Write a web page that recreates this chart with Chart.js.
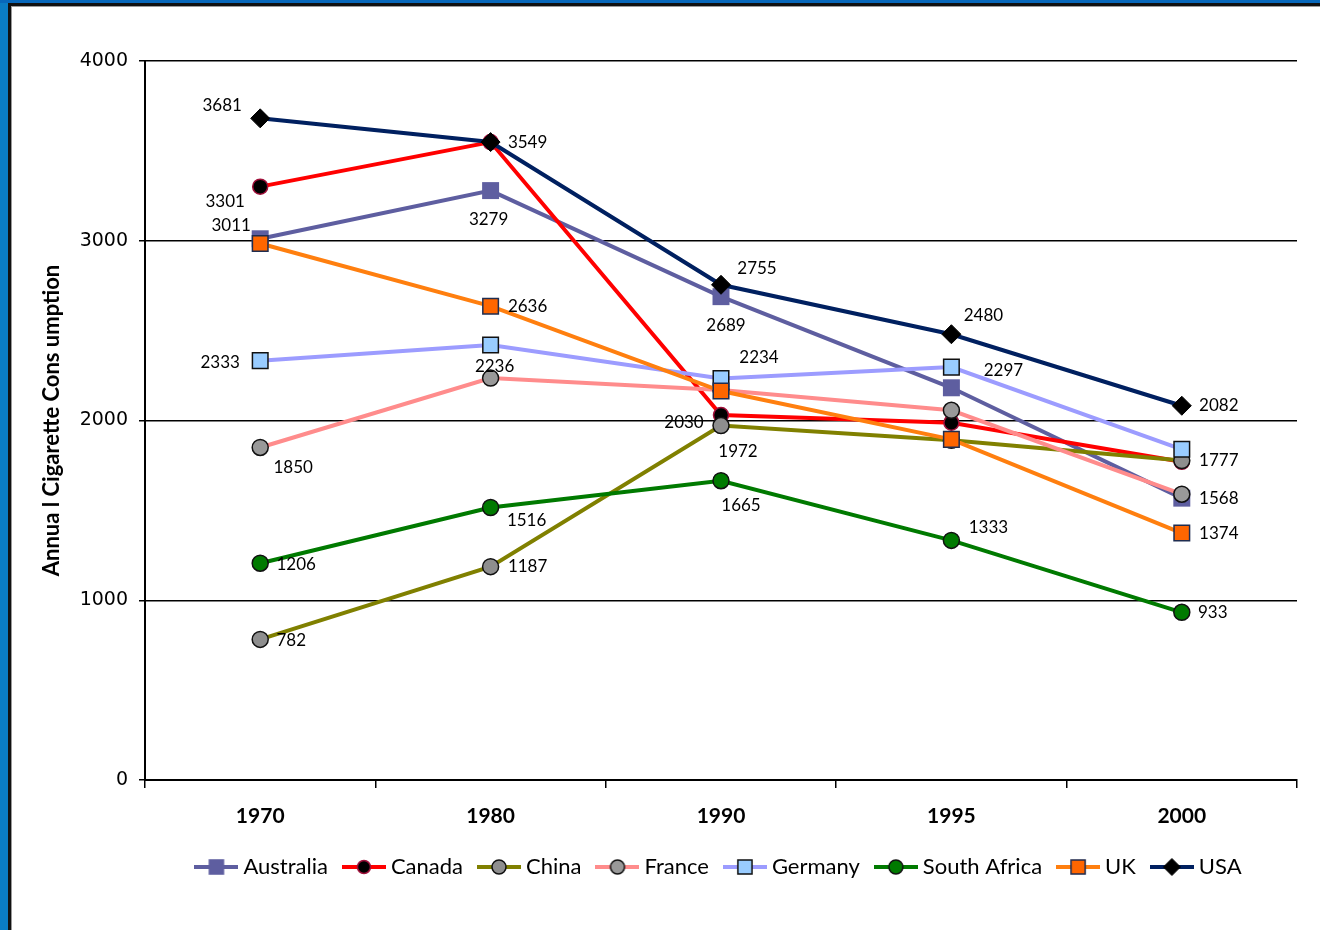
<!DOCTYPE html>
<html>
<head>
<meta charset="utf-8">
<title>Annual Cigarette Consumption</title>
<script src="https://cdn.jsdelivr.net/npm/chart.js@4.4.1/dist/chart.umd.min.js"></script>
<style>
  html, body { margin: 0; padding: 0; background: #fff; }
  #wrap { position: relative; width: 1320px; height: 930px; overflow: hidden; background: #fff; }
  #chart { position: absolute; left: 0; top: 0; }
  .frame { position: absolute; }
  #blueL { left: 0; top: 0; width: 8px; height: 930px; background: #0a7cc4; }
  #blueT { left: 0; top: 0; width: 1320px; height: 3px; background: #0868bb; }
  #darkL { left: 8px; top: 3px; width: 3px; height: 927px; background: #111; }
  #darkT { left: 8px; top: 3px; width: 1312px; height: 3px; background: #111; }
  #greyL { left: 11px; top: 6px; width: 1px; height: 924px; background: #9a9a9a; }
  #greyT { left: 11px; top: 6px; width: 1309px; height: 1px; background: #9a9a9a; }
</style>
</head>
<body>
<div id="wrap">
  <canvas id="chart" width="1320" height="930"></canvas>
  <div class="frame" id="blueL"></div>
  <div class="frame" id="blueT"></div>
  <div class="frame" id="darkL"></div>
  <div class="frame" id="darkT"></div>
  <div class="frame" id="greyL"></div>
  <div class="frame" id="greyT"></div>
</div>
<script>
// Survey years on the category axis
const YEARS = ['1970', '1980', '1990', '1995', '2000'];

// Annual cigarette consumption per country
const AUSTRALIA    = [3011, 3279, 2689, 2182, 1568];
const CANADA       = [3301, 3549, 2030, 1988, 1770];
const CHINA        = [782, 1187, 1972, 1890, 1777];
const FRANCE       = [1850, 2236, 2170, 2057, 1590];
const GERMANY      = [2333, 2420, 2234, 2297, 1840];
const SOUTH_AFRICA = [1206, 1516, 1665, 1333, 933];
const UK           = [2985, 2636, 2164, 1895, 1374];
const USA          = [3681, 3549, 2755, 2480, 2082];

// Value axis ticks
const Y_TICKS = [0, 1000, 2000, 3000, 4000];

// Where each value label sits relative to its point (label centre offset, px); null = no label
const LABEL_OFFSETS = {
  'Australia':    [[-29, -13], [-2, 29], [5, 29], null, [37, 0]],
  'Canada':       [[-35, 15], null, [-37, 7], null, null],
  'China':        [[31, 1], [37, 0], [17, 26], null, [37, 0]],
  'France':       [[33, 20], [4, -12], null, null, null],
  'Germany':      [[-40, 2], null, [38, -21], [52, 3], null],
  'South Africa': [[36, 1], [36, 13], [20, 25], [37, -13], [31, 0]],
  'UK':           [null, [37, 0], null, null, [37, 0]],
  'USA':          [[-38, -13], [37, 0], [36, -16], [32, -19], [37, 0]]
};

const SERIES = [
  { name: 'Australia',    data: AUSTRALIA,    line: '#5e5ea0', style: 'rect',    r: 12,  bg: '#5e5ea0', border: '#5e5ea0', bw: 0 },
  { name: 'Canada',       data: CANADA,       line: '#ff0000', style: 'circle',  r: 7.5, bg: '#000000', border: '#a0103a', bw: 1.5 },
  { name: 'China',        data: CHINA,        line: '#808000', style: 'circle',  r: 8,   bg: '#8e8e8e', border: '#111111', bw: 1.5 },
  { name: 'France',       data: FRANCE,       line: '#ff8c8c', style: 'circle',  r: 8,   bg: '#999999', border: '#111111', bw: 1.5 },
  { name: 'Germany',      data: GERMANY,      line: '#9c9cff', style: 'rect',    r: 11,  bg: '#99ccff', border: '#111111', bw: 1.5 },
  { name: 'South Africa', data: SOUTH_AFRICA, line: '#007a00', style: 'circle',  r: 8,   bg: '#007a00', border: '#111111', bw: 1.5 },
  { name: 'UK',           data: UK,           line: '#ff7f0f', style: 'rect',    r: 11,  bg: '#ff6600', border: '#1f2d50', bw: 1.5 },
  { name: 'USA',          data: USA,          line: '#002060', style: 'rectRot', r: 9.5, bg: '#000000', border: '#000000', bw: 1 }
];

// Legend swatch: a short line with the series marker in the middle
function legendIcon(s) {
  const c = document.createElement('canvas');
  c.width = 44; c.height = 22;
  const g = c.getContext('2d');
  g.strokeStyle = s.line;
  g.lineWidth = 4;
  g.beginPath(); g.moveTo(0, 11); g.lineTo(44, 11); g.stroke();
  g.fillStyle = s.bg;
  g.strokeStyle = s.border;
  g.lineWidth = s.bw;
  Chart.helpers.drawPoint(g, { pointStyle: s.style, radius: s.r - 1, rotation: 0, borderWidth: s.bw }, 22, 11);
  return c;
}

const valueLabels = {
  id: 'valueLabels',
  afterDatasetsDraw(chart) {
    const ctx = chart.ctx;
    ctx.save();
    ctx.font = '17px Lato';
    ctx.fillStyle = '#000';
    ctx.textAlign = 'center';
    ctx.textBaseline = 'middle';
    chart.data.datasets.forEach((ds, i) => {
      const offs = LABEL_OFFSETS[ds.label];
      chart.getDatasetMeta(i).data.forEach((pt, j) => {
        const o = offs[j];
        if (!o) return;
        ctx.fillText(String(ds.data[j]), pt.x + o[0], pt.y + o[1]);
      });
    });
    ctx.restore();
  }
};

// Centre the legend row under the plot area rather than the whole canvas
const legendUnderPlot = {
  id: 'legendUnderPlot',
  afterLayout(chart) {
    const lg = chart.legend;
    if (!lg) return;
    const plotMid = (chart.chartArea.left + chart.chartArea.right) / 2;
    const shift = plotMid - (lg.left + lg.right) / 2;
    lg.left += shift;
    lg.right += shift;
  }
};

const icons = SERIES.map(legendIcon);

new Chart(document.getElementById('chart'), {
  type: 'line',
  data: {
    labels: YEARS,
    datasets: SERIES.map((s, i) => ({
      label: s.name,
      data: s.data,
      borderColor: s.line,
      borderWidth: 4,
      tension: 0,
      fill: false,
      pointStyle: s.style,
      pointRadius: s.r,
      pointHoverRadius: s.r,
      pointBackgroundColor: s.bg,
      pointBorderColor: s.border,
      pointBorderWidth: s.bw,
      order: -i
    }))
  },
  options: {
    responsive: false,
    animation: false,
    events: [],
    layout: { padding: { left: 39, top: 61, right: 23, bottom: 42 } },
    scales: {
      x: {
        type: 'category',
        offset: true,
        grid: { offset: true, drawOnChartArea: false, drawTicks: true, tickLength: 8, color: '#000', lineWidth: 1.5 },
        border: { color: '#000', width: 2 },
        ticks: { font: { family: 'Lato', size: 21, weight: 'bold' }, color: '#000', padding: 16, maxRotation: 0 },
        afterFit(s) { s.height = 56; }
      },
      y: {
        min: 0,
        max: 4000,
        afterBuildTicks(s) { s.ticks = Y_TICKS.map(v => ({ value: v })); },
        grid: { color: '#000', lineWidth: 1.5, tickLength: 6, drawTicks: true },
        border: { color: '#000', width: 2 },
        ticks: {
          font: { family: 'DejaVu Sans', size: 19 },
          color: '#000',
          padding: 11,
          callback: v => String(v)
        },
        title: {
          display: true,
          text: 'Annua l Cigarette Cons umption',
          font: { family: 'Lato', size: 22, weight: 'bold' },
          color: '#000',
          padding: 0
        },
        afterFit(s) { s.width = 145 - 39; }
      }
    },
    plugins: {
      tooltip: { enabled: false },
      legend: {
        position: 'bottom',
        labels: {
          usePointStyle: true,
          pointStyleWidth: 32,
          boxHeight: 22,
          padding: 20,
          font: { family: 'Lato', size: 22 },
          color: '#000',
          generateLabels(chart) {
            return chart.data.datasets.map((ds, i) => ({
              text: ds.label,
              pointStyle: icons[i],
              datasetIndex: i,
              hidden: false,
              lineWidth: 0,
              fillStyle: 'rgba(0,0,0,0)',
              strokeStyle: 'rgba(0,0,0,0)',
              fontColor: '#000'
            }));
          }
        }
      }
    }
  },
  plugins: [valueLabels, legendUnderPlot]
});
</script>
</body>
</html>
